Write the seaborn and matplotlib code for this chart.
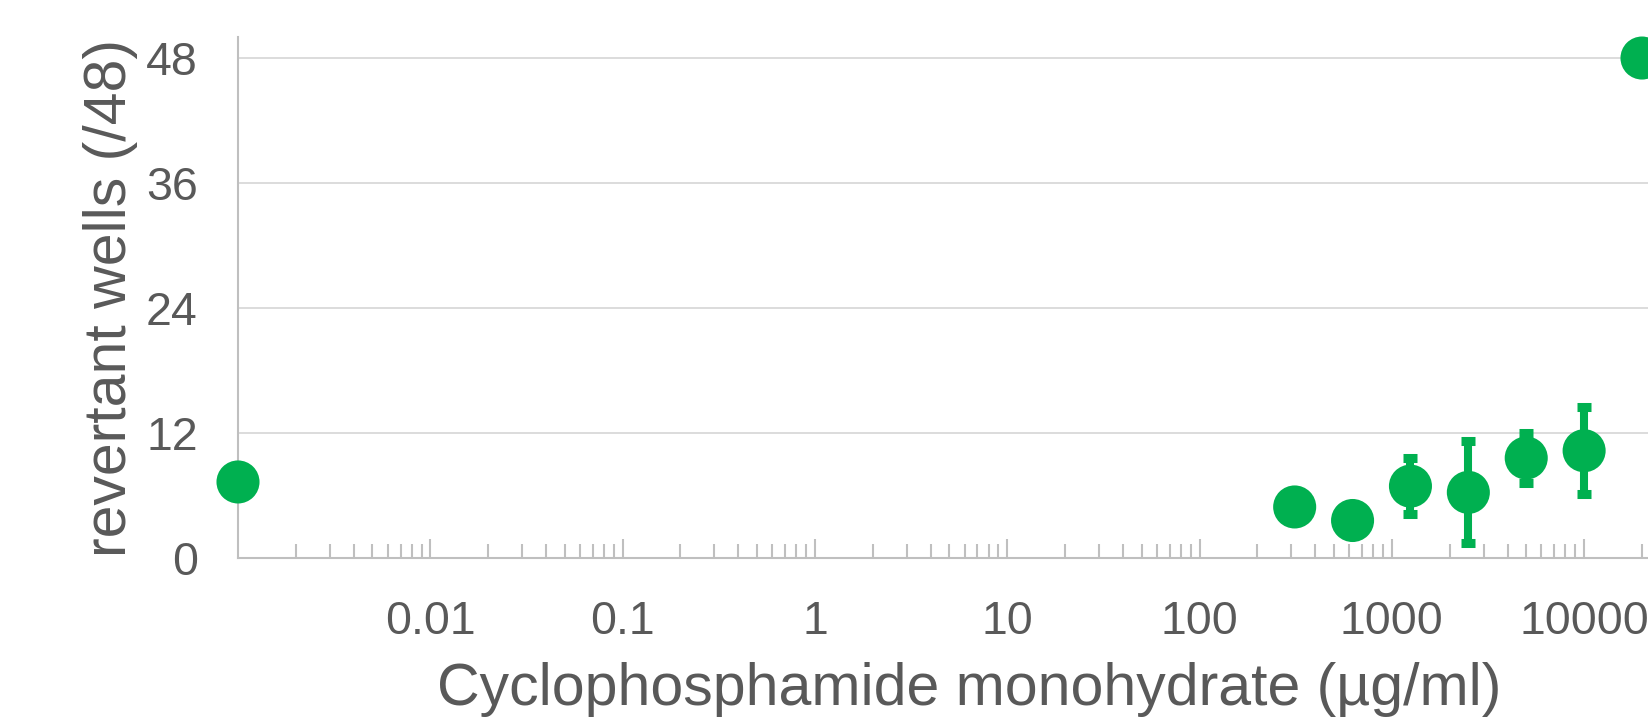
import numpy as np
import pandas as pd
import matplotlib
matplotlib.use("Agg")
import matplotlib.pyplot as plt
import matplotlib.ticker as mticker
import seaborn as sns

# Data
concentration = [0.001, 312.5, 625, 1250, 2500, 5000, 10000, 20000]
revertants = [7.3, 4.9, 3.6, 6.9, 6.3, 9.6, 10.3, 48.0]
errors = [0, 0, 0, 2.7, 4.9, 2.4, 4.2, 0]
x_tick_values = [0.01, 0.1, 1, 10, 100, 1000, 10000]
x_tick_labels = ["0.01", "0.1", "1", "10", "100", "1000", "10000"]
y_tick_values = [0, 12, 24, 36, 48]

GREEN = "#00B050"
TEXT = "#595959"
GRID = "#D9D9D9"
AXIS = "#BFBFBF"

sns.set_theme(style="white")
plt.rcParams["font.family"] = ["Liberation Sans", "DejaVu Sans"]

df = pd.DataFrame({"conc": concentration, "rev": revertants, "err": errors})

fig = plt.figure(figsize=(16.48, 7.22), dpi=100)
ax = fig.add_axes([238 / 1648, 164 / 722, 1461.5 / 1648, 520.8 / 722])

ax.set_xscale("log")
ax.set_xlim(1e-3, 10 ** 4.6)
ax.set_ylim(0, 50)

# gridlines
ax.set_yticks(y_tick_values)
ax.yaxis.grid(True, color=GRID, linewidth=1.3)
ax.xaxis.grid(False)
ax.set_axisbelow(True)

# error bars
eb = df[df["err"] > 0]
ax.errorbar(eb["conc"], eb["rev"], yerr=eb["err"], fmt="none", ecolor=GREEN,
            elinewidth=5.8, capsize=4.8, capthick=6.5, zorder=3)

sns.scatterplot(data=df, x="conc", y="rev", ax=ax, color=GREEN, s=31 ** 2,
                edgecolor="none", linewidth=0, zorder=4, clip_on=False, legend=False)

# spines
for s in ["top", "right"]:
    ax.spines[s].set_visible(False)
for s in ["left", "bottom"]:
    ax.spines[s].set_color(AXIS)
    ax.spines[s].set_linewidth(1.5)

ax.set_xticks(x_tick_values)
ax.set_xticklabels(x_tick_labels)
ax.xaxis.set_minor_locator(mticker.LogLocator(base=10, subs=np.arange(2, 10), numticks=100))
ax.xaxis.set_minor_formatter(mticker.NullFormatter())
ax.tick_params(axis="x", which="major", direction="in", length=14, width=1.5,
               color=AXIS, labelsize=33.5, labelcolor=TEXT, pad=30, bottom=True)
ax.tick_params(axis="x", which="minor", direction="in", length=10, width=1.5,
               color=AXIS, bottom=True)
ax.tick_params(axis="y", which="both", length=0, labelsize=33.5, labelcolor=TEXT, pad=29)

ax.set_xlabel("Cyclophosphamide monohydrate (µg/ml)", fontsize=42.5, color=TEXT, labelpad=13)
ax.set_ylabel("revertant wells (/48)", fontsize=42.5, color=TEXT, labelpad=6)

fig.savefig("out.png", dpi=100)
